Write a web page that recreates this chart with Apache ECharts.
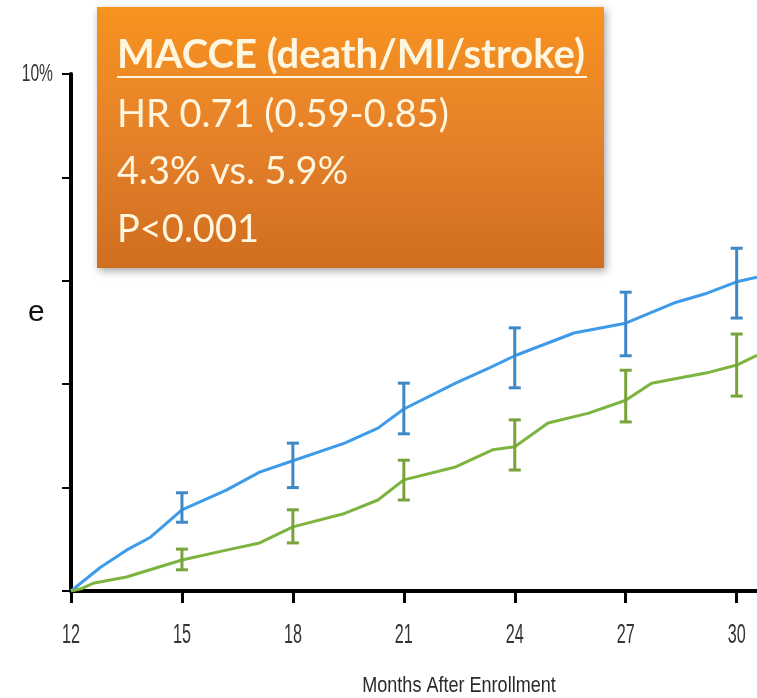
<!DOCTYPE html>
<html lang="en">
<head>
    <meta charset="UTF-8">
    <title>MACCE</title>
    <script src="https://cdn.jsdelivr.net/npm/echarts@6/dist/echarts.min.js"></script>
    <style>
        html,body{margin:0;padding:0;background:#fff}
        #chart{width:757px;height:698px}
    </style>
</head>
<body>
<div id="chart"></div>
<script>
/*
 * 数据部分
 */
var blueMonths=[12,12.8,13.5,14.15,15,16.2,17.1,18,19.4,20.3,21,22.4,23.3,24,25.6,27,28.3,29.2,30,30.55];
var blueValues=[0,0.46,0.79,1.04,1.57,1.95,2.3,2.52,2.86,3.15,3.52,4.02,4.31,4.55,4.99,5.18,5.57,5.76,5.98,6.07];
var greenMonths=[12,12.3,12.6,13.5,15,16.2,17.1,18,19.4,20.3,21,22.4,23.4,24,24.9,26,27,27.7,29.2,30,30.55];
var greenValues=[0,0.05,0.15,0.27,0.6,0.79,0.93,1.24,1.5,1.76,2.15,2.4,2.73,2.79,3.25,3.44,3.69,4.02,4.22,4.37,4.56];
var barMonths=[15,18,21,24,27,30];
var blueLow=[1.33,2.0,3.04,3.93,4.55,5.28];
var blueHigh=[1.9,2.86,4.02,5.09,5.78,6.63];
var greenLow=[0.41,0.93,1.76,2.34,3.27,3.77];
var greenHigh=[0.81,1.57,2.53,3.31,4.27,4.97];
var xTicks=[12,15,18,21,24,27,30];
var yLabels=[10];
var boxLines=["MACCE (death/MI/stroke)","HR 0.71 (0.59-0.85)","4.3% vs. 5.9%","P<0.001"];

function pairs(xs,ys){
	var out=[];
	for(var i=0;i<xs.length;i++){
		out.push([xs[i],ys[i]]);
	}
	return out;
}
function barData(lo,hi){
	var out=[];
	for(var i=0;i<barMonths.length;i++){
		out.push([barMonths[i],lo[i],hi[i]]);
	}
	return out;
}
// 误差棒
function errorBar(color){
	return function(params,api){
		var top=api.coord([api.value(0),api.value(2)]);
		var bot=api.coord([api.value(0),api.value(1)]);
		var w=6;
		var st={stroke:color,lineWidth:3};
		return {type:'group',children:[
			{type:'line',shape:{x1:top[0],y1:top[1],x2:bot[0],y2:bot[1]},style:st},
			{type:'line',shape:{x1:top[0]-w,y1:top[1],x2:top[0]+w,y2:top[1]},style:st},
			{type:'line',shape:{x1:bot[0]-w,y1:bot[1],x2:bot[0]+w,y2:bot[1]},style:st}
		]};
	};
}
// 压窄的刻度文字
function xLabel(params,api){
	var p=api.coord([api.value(0),0]);
	return {type:'text',x:p[0],y:p[1]+31,scaleX:0.6,
		style:{text:String(api.value(0)),textAlign:'center',textVerticalAlign:'top',
			font:'27px "Liberation Sans", Arial, sans-serif',fill:'#333'}};
}
function yLabel(params,api){
	var p=api.coord([12,api.value(0)]);
	return {type:'text',x:p[0]-18,y:p[1]+1,scaleX:0.68,
		style:{text:api.value(0)+'%',textAlign:'right',textVerticalAlign:'middle',
			font:'23px "Liberation Sans", Arial, sans-serif',fill:'#333'}};
}

var myChart=echarts.init(document.getElementById('chart'));
var option={
	animation:false,
	grid:{left:71,right:0,top:74,bottom:107,containLabel:false},
	xAxis:{
		type:'value',min:12,max:30.55,
		splitLine:{show:false},
		axisLine:{lineStyle:{color:'#000',width:4}},
		axisTick:{customValues:xTicks,length:12,lineStyle:{color:'#000',width:3}},
		axisLabel:{show:false}
	},
	yAxis:{
		type:'value',min:0,max:10,interval:2,
		splitLine:{show:false},
		axisLine:{show:true,lineStyle:{color:'#000',width:4}},
		axisTick:{show:true,length:9,lineStyle:{color:'#000',width:2}},
		axisLabel:{show:false}
	},
	series:[
		{type:'line',data:pairs(blueMonths,blueValues),showSymbol:false,
			lineStyle:{color:'#3d9be9',width:3},z:3},
		{type:'line',data:pairs(greenMonths,greenValues),showSymbol:false,
			lineStyle:{color:'#7cb440',width:3},z:3},
		{type:'custom',data:barData(blueLow,blueHigh),renderItem:errorBar('#3f88c8'),z:4},
		{type:'custom',data:barData(greenLow,greenHigh),renderItem:errorBar('#78a33a'),z:4},
		{type:'custom',data:xTicks.map(function(v){return [v];}),renderItem:xLabel,clip:false,silent:true},
		{type:'custom',data:yLabels.map(function(v){return [v];}),renderItem:yLabel,clip:false,silent:true}
	],
	graphic:[
		{type:'text',left:28,top:298,style:{text:'e',font:'30px Arial, sans-serif',fill:'#111'}},
		{type:'text',x:459,y:686,scaleX:0.82,
			style:{text:'Months After Enrollment',x:0,y:0,textAlign:'center',textVerticalAlign:'middle',
				font:'22px "Liberation Sans", Arial, sans-serif',fill:'#2a2a2a'}},
		{type:'rect',shape:{x:97,y:7,width:507,height:261},z:10,
			style:{fill:new echarts.graphic.LinearGradient(0,0,0,1,[
				{offset:0,color:'#f7931f'},{offset:0.5,color:'#e6812a'},{offset:1,color:'#d06e1f'}]),
				shadowBlur:8,shadowOffsetX:2,shadowOffsetY:3,shadowColor:'rgba(0,0,0,0.35)'}},
		{type:'text',z:11,style:{text:boxLines[0],x:117,y:55,font:'bold 40px Lato, sans-serif',fill:'#fff6e0',verticalAlign:'middle'}},
		{type:'line',z:11,shape:{x1:117,y1:77,x2:587,y2:77},style:{stroke:'#fff6e0',lineWidth:2}},
		{type:'text',z:11,style:{text:boxLines[1],x:117,y:115,font:'38px Lato, sans-serif',fill:'#fff6e0',verticalAlign:'middle'}},
		{type:'text',z:11,style:{text:boxLines[2],x:117,y:172,font:'38px Lato, sans-serif',fill:'#fff6e0',verticalAlign:'middle'}},
		{type:'text',z:11,style:{text:boxLines[3],x:117,y:230,font:'38px Lato, sans-serif',fill:'#fff6e0',verticalAlign:'middle'}}
	]
};
myChart.setOption(option);
</script>
</body>
</html>
